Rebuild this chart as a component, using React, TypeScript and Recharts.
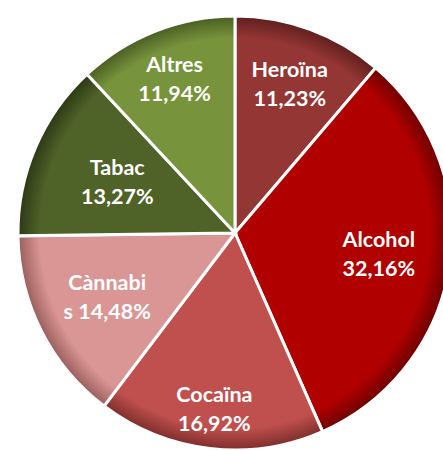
import React from 'react';
import { PieChart, Pie, Cell } from 'recharts';

const categories = ['Heroïna', 'Alcohol', 'Cocaïna', 'Cànnabis', 'Tabac', 'Altres'];
const shares = [11.23, 32.16, 16.92, 14.48, 13.27, 11.94];

const COLORS = ['#943634', '#B00000', '#C0504D', '#DA9694', '#4F6228', '#77933C'];
const RIM = ['#5e1f1e', '#6e0000', '#7e2e2c', '#9a5e5c', '#2c3815', '#4a5e22'];
const LABEL_R = [0.73, 0.67, 0.82, 0.66, 0.59, 0.76];

const data = categories.map((name, i) => ({ name, value: shares[i] }));

const fmt = (v: number) => v.toFixed(2).replace('.', ',') + '%';

const RAD = Math.PI / 180;

const renderLabel = (props: any) => {
  const { cx, cy, midAngle, outerRadius, index, name, value } = props;
  const r = outerRadius * LABEL_R[index];
  const x = cx + r * Math.cos(-midAngle * RAD);
  const y = cy + r * Math.sin(-midAngle * RAD);
  let l1 = name;
  let l2 = fmt(value);
  if (name === 'Cànnabis') {
    l1 = 'Cànnabi';
    l2 = 's ' + fmt(value);
  }
  return (
    <text
      x={x}
      y={y}
      textAnchor="middle"
      fill="#ffffff"
      fontFamily="Lato, 'Open Sans', sans-serif"
      fontWeight={700}
      fontSize={21.5}
    >
      <tspan x={x} y={y - 7.5}>{l1}</tspan>
      <tspan x={x} y={y + 21.5}>{l2}</tspan>
    </text>
  );
};

export default function App() {
  const cx = 235;
  const cy = 233;
  const R = 217;
  return (
    <div style={{ position: 'absolute', left: 0, top: 0, width: 443, height: 450, background: '#fff' }}>
      <PieChart width={443} height={450} margin={{ top: 0, right: 0, bottom: 0, left: 0 }}>
        <defs>
          {COLORS.map((c, i) => (
            <radialGradient
              key={i}
              id={`g${i}`}
              gradientUnits="userSpaceOnUse"
              cx={cx}
              cy={cy}
              r={R}
            >
              <stop offset="0%" stopColor={c} />
              <stop offset="90%" stopColor={c} />
              <stop offset="100%" stopColor={RIM[i]} />
            </radialGradient>
          ))}
        </defs>
        <Pie
          data={data}
          dataKey="value"
          nameKey="name"
          cx={cx}
          cy={cy}
          outerRadius={R}
          startAngle={90}
          endAngle={-270}
          stroke="#ffffff"
          strokeWidth={3}
          label={renderLabel}
          labelLine={false}
          isAnimationActive={false}
        >
          {data.map((d, i) => (
            <Cell key={d.name} fill={`url(#g${i})`} />
          ))}
        </Pie>
      </PieChart>
    </div>
  );
}
